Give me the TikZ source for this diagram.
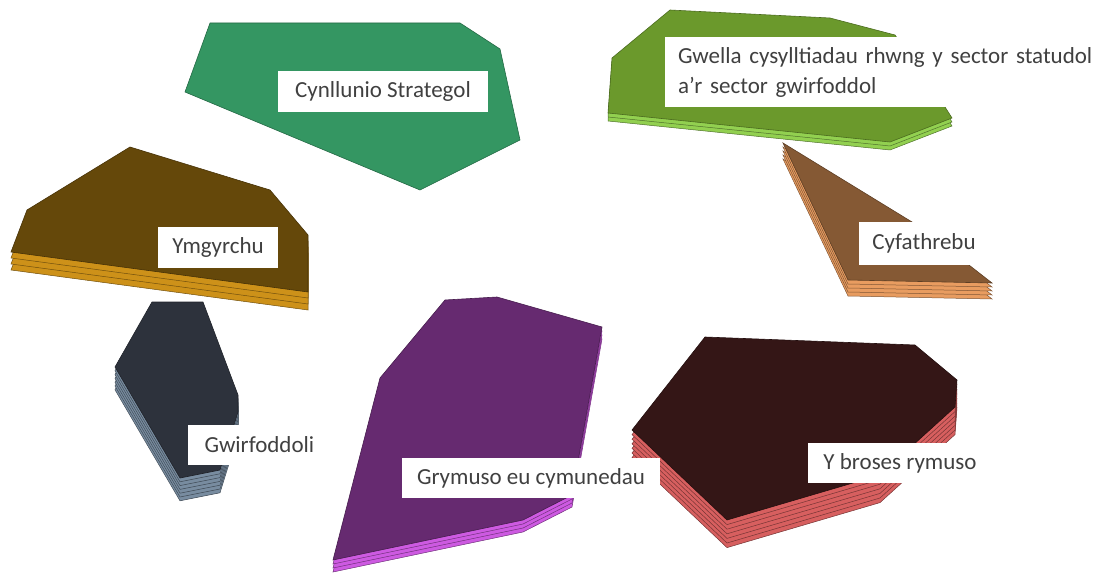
\documentclass[tikz,border=0pt]{standalone}
\usepackage{fontspec}
\setmainfont{Carlito}
\definecolor{cynF}{RGB}{52,150,98}
\definecolor{gweF}{RGB}{107,153,44}
\definecolor{gweL}{RGB}{146,208,80}
\definecolor{cyfF}{RGB}{133,89,52}
\definecolor{cyfL}{RGB}{232,156,96}
\definecolor{ymgF}{RGB}{101,72,10}
\definecolor{ymgL}{RGB}{205,145,25}
\definecolor{gwiF}{RGB}{45,50,60}
\definecolor{gwiL}{RGB}{120,140,160}
\definecolor{purF}{RGB}{102,42,112}
\definecolor{purL}{RGB}{205,90,225}
\definecolor{marF}{RGB}{52,22,22}
\definecolor{marL}{RGB}{215,95,95}
\definecolor{txtgray}{RGB}{64,64,64}
\newcommand\slab[5]{%
  \foreach \k in {#4,...,1}{\filldraw[fill=#3, draw=#3!55!black, line width=0.5pt, shift={(0,\k*#5)}] #1;}
  \filldraw[fill=#2, draw=#2!70!black, line width=0.6pt] #1;}
\tikzset{lbl/.style={fill=white, text=txtgray, font=\fontsize{23}{30}\selectfont, inner sep=0pt, align=center}}
\begin{document}
\begin{tikzpicture}[x=1pt,y=-1pt]
\useasboundingbox (0,0) rectangle (1102,577);
% Cynllunio Strategol
\filldraw[fill=cynF, draw=cynF!70!black, line width=0.6pt] (210,23) -- (460,23) -- (500,49) -- (520,140) -- (420,190) -- (185,92) -- cycle;
% Cyfathrebu
\slab{(783,143) -- (912,222) -- (960,258) -- (992,283) -- (848,280) -- cycle}{cyfF}{cyfL}{4}{4}
% Gwella
\slab{(670,10) -- (830,18) -- (895,35) -- (945,107) -- (952,118) -- (890,142) -- (608,113) -- (612,58) -- cycle}{gweF}{gweL}{2}{4}
% Gwirfoddoli
\slab{(152,302) -- (203,302) -- (238,395) -- (238,412) -- (220,470) -- (180,478) -- (115,367) -- cycle}{gwiF}{gwiL}{6}{3.8}
% Ymgyrchu
\slab{(130,147) -- (270,190) -- (308,235) -- (308,292) -- (11,252) -- (27,210) -- cycle}{ymgF}{ymgL}{3}{6}
% Grymuso
\slab{(445,300) -- (497,297) -- (602,327) -- (572,495) -- (523,520) -- (333,560) -- (380,378) -- cycle}{purF}{purL}{3}{4}
% Y broses
\slab{(705,337) -- (915,345) -- (957,380) -- (955,407) -- (880,475) -- (727,520) -- (632,430) -- cycle}{marF}{marL}{6}{4.6}
% labels
\node[lbl, minimum width=210pt, minimum height=41pt] (cyn) at (383,91.5) {Cynllunio Strategol};
\node[lbl, anchor=north west, inner xsep=13pt, text width=420pt, minimum height=70pt, align=left] (gwe) at (665,37)
  {\mbox{Gwella cysylltiadau rhwng y sector statudol}\\\mbox{a’r sector gwirfoddol}};
\node[lbl, minimum width=130pt, minimum height=43pt] (cyf) at (924,243.5) {Cyfathrebu};
\node[lbl, minimum width=120pt, minimum height=41pt] (ymg) at (218,247.5) {Ymgyrchu};
\node[lbl, minimum width=143pt, minimum height=40pt] (gwi) at (259.5,445) {Gwirfoddoli};
\node[lbl, minimum width=258pt, minimum height=40pt] (gry) at (531,478) {Grymuso eu cymunedau};
\node[lbl, minimum width=184pt, minimum height=40pt] (ybr) at (900,463) {Y broses rymuso};
\end{tikzpicture}
\end{document}
